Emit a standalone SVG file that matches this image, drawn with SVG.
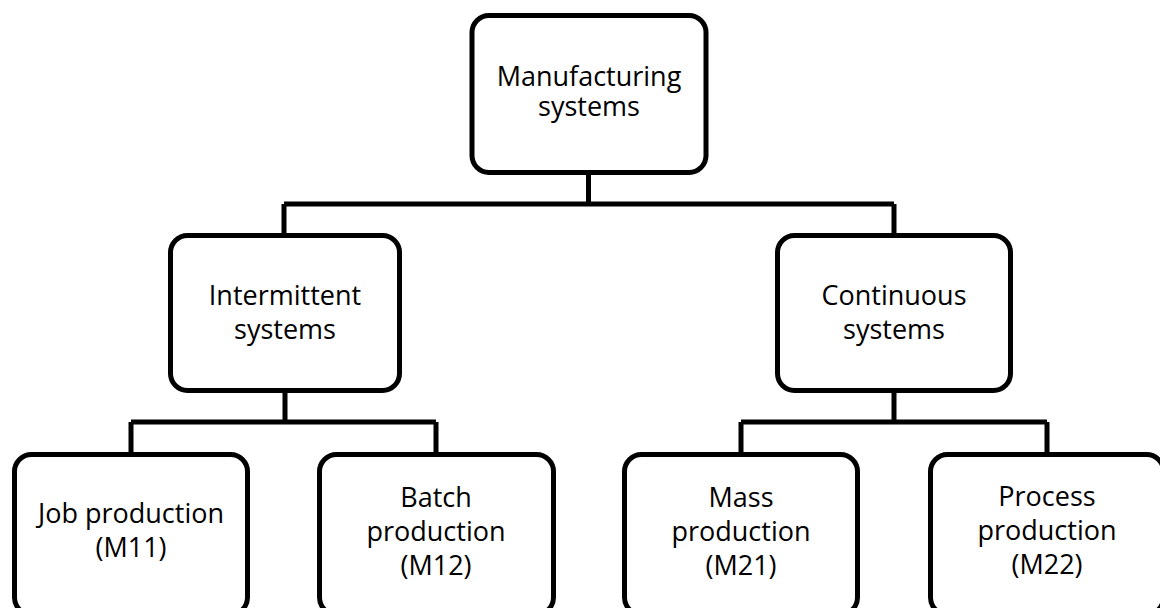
<svg xmlns="http://www.w3.org/2000/svg" width="1160" height="608" viewBox="0 0 1160 608">
  <style>
    .box { fill: #ffffff; stroke: #000000; stroke-width: 5; }
    .link { fill: none; stroke: #000000; stroke-width: 5; stroke-linejoin: miter; }
    .label { font-family: "Open Sans", "Noto Sans", sans-serif; font-size: 27px; fill: #000000; text-anchor: middle; }
  </style>
  <rect width="1160" height="608" fill="#ffffff"/>

  <!-- tree connectors -->
  <g id="connectors">
    <path class="link" d="M588.5 175 V204 M284 204 H894 M284 204 V233 M894 204 V233"/>
    <path class="link" d="M285 393 V422 M131 422 H436 M131 422 V452 M436 422 V452"/>
    <path class="link" d="M894 393 V422 M741 422 H1047 M741 422 V452 M1047 422 V452"/>
  </g>

  <g id="manufacturing-systems">
    <rect class="box" x="472" y="15.5" width="234" height="157" rx="17"/>
    <text class="label" x="589" y="86">Manufacturing<tspan x="589" y="116">systems</tspan></text>
  </g>

  <g id="intermittent-systems">
    <rect class="box" x="170.5" y="235.5" width="229" height="155" rx="17"/>
    <text class="label" x="285" y="305">Intermittent<tspan x="285" y="339">systems</tspan></text>
  </g>

  <g id="continuous-systems">
    <rect class="box" x="777.5" y="235.5" width="233" height="155" rx="17"/>
    <text class="label" x="894" y="305">Continuous<tspan x="894" y="339">systems</tspan></text>
  </g>

  <g id="job-production">
    <rect class="box" x="14.5" y="454.5" width="233" height="160" rx="17"/>
    <text class="label" x="131" y="523">Job production<tspan x="131" y="557">(M11)</tspan></text>
  </g>

  <g id="batch-production">
    <rect class="box" x="319.5" y="454.5" width="234" height="160" rx="17"/>
    <text class="label" x="436" y="507">Batch<tspan x="436" y="541">production</tspan><tspan x="436" y="575">(M12)</tspan></text>
  </g>

  <g id="mass-production">
    <rect class="box" x="624.5" y="454.5" width="233" height="160" rx="17"/>
    <text class="label" x="741" y="507">Mass<tspan x="741" y="541">production</tspan><tspan x="741" y="575">(M21)</tspan></text>
  </g>

  <g id="process-production">
    <rect class="box" x="930.5" y="454.5" width="233" height="160" rx="17"/>
    <text class="label" x="1047" y="506">Process<tspan x="1047" y="540">production</tspan><tspan x="1047" y="574">(M22)</tspan></text>
  </g>
</svg>
